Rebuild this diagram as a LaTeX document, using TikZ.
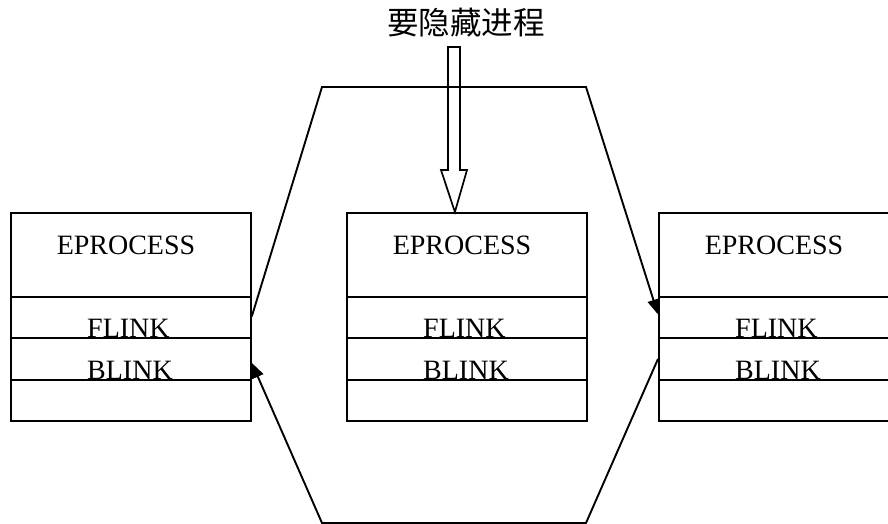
\documentclass[tikz,border=0pt]{standalone}
\usepackage{fontspec}
\setmainfont{Liberation Serif}
\newfontfamily\cjk{Noto Sans CJK SC}
\usetikzlibrary{arrows.meta}
\begin{document}
\begin{tikzpicture}[x=1pt,y=-1pt,
  row/.style={draw,line width=1.8pt,minimum width=240pt,inner sep=0pt,anchor=north west},
  txt/.style={font=\fontsize{28}{30}\selectfont,inner sep=0pt},
  link/.style={line width=1.9pt},
  tipped/.style={-{Triangle[length=15pt,width=12pt]}}]
\useasboundingbox (0,0) rectangle (888,524);
\clip (0,0) rectangle (888,524);
\foreach \n/\x in {1/10,2/346,3/658}{
  \node[txt,anchor=base] (te\n) at (\x+116,254) {EPROCESS};
  \node[txt,anchor=base west] (tf\n) at (\x+77,337) {FLINK};
  \node[txt,anchor=base west] (tb\n) at (\x+77,379) {BLINK};
  \node[row,minimum height=84pt] (e\n) at (\x,212) {};
  \node[row,minimum height=41pt] (f\n) at (\x,296) {};
  \node[row,minimum height=42pt] (b\n) at (\x,337) {};
  \node[row,minimum height=41pt] (x\n) at (\x,379) {};
}
\node[font=\cjk\fontsize{31.5}{34}\selectfont,anchor=base,inner sep=0pt] (title) at (466,35) {要隐藏进程};
\coordinate (tl) at (322,87);
\coordinate (tr) at (586,87);
\coordinate (br) at (586,523);
\coordinate (bl) at (322,523);
\draw[link,tipped] ([yshift=1pt]f1.east) -- (tl) -- (tr) -- ([yshift=3pt]f3.west);
\draw[link,tipped] (b3.west) -- (br) -- (bl) -- ([yshift=-4pt]b1.east);
\coordinate (htip) at ([xshift=-12pt]e2.north);
\draw[line width=1.7pt] (448,47) -- (460,47) -- (460,170) -- (467,170) -- (htip) -- (441,170) -- (448,170) -- cycle;
\end{tikzpicture}
\end{document}
